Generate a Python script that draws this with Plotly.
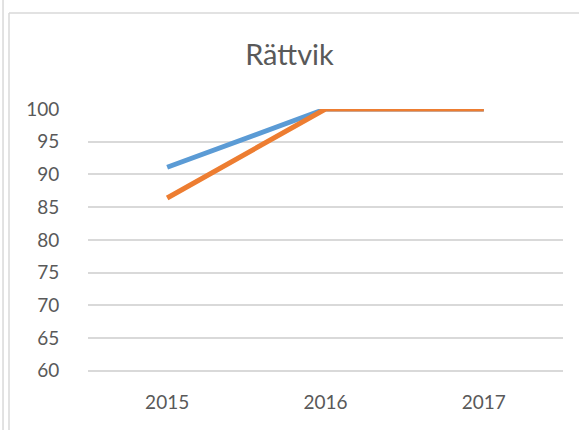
import plotly.graph_objects as go

years = ["2015", "2016", "2017"]
series_blue = [91.1, 100, 100]
series_orange = [86.4, 100, 100]
y_ticks = [60, 65, 70, 75, 80, 85, 90, 95, 100]

GRID = "#d9d9d9"
TEXT = "#595959"

fig = go.Figure()
fig.add_trace(go.Scatter(
    x=years, y=series_blue, mode="lines",
    line=dict(color="#5B9BD5", width=5), cliponaxis=False, name="A",
))
fig.add_trace(go.Scatter(
    x=years, y=series_orange, mode="lines",
    line=dict(color="#ED7D31", width=5), cliponaxis=False, name="B",
))

# outer chart border (partially visible)
for shape in [
    dict(type="line", xref="paper", yref="paper", x0=-0.1789, x1=-0.1789, y0=-0.3, y1=1.5),
    dict(type="line", xref="paper", yref="paper", x0=-0.1663, x1=-0.1663, y0=-0.3, y1=1.362),
    dict(type="line", xref="paper", yref="paper", x0=-0.1663, x1=1.5, y0=1.362, y1=1.362),
]:
    fig.add_shape(line=dict(color=GRID, width=1.5), layer="below", **shape)

fig.update_layout(
    width=579, height=430,
    margin=dict(l=88, r=16, t=109, b=56),
    paper_bgcolor="white", plot_bgcolor="white",
    showlegend=False,
    font=dict(family="Lato, sans-serif", color=TEXT, size=19),
    title=dict(text="Rättvik", x=0.5, xanchor="center", y=1 - 55 / 430, yanchor="middle",
               xref="container", yref="container", font=dict(size=29, color=TEXT)),
    xaxis=dict(type="category", range=[-0.5, 2.5], showgrid=False, zeroline=False,
               showline=False, ticks="outside", ticklen=11, tickcolor="rgba(0,0,0,0)"),
    yaxis=dict(range=[59.5, 100], tickvals=y_ticks, showgrid=True, gridcolor=GRID, gridwidth=1.5,
               zeroline=False, showline=False, ticks="outside", ticklen=24,
               tickcolor="rgba(0,0,0,0)"),
)

fig.write_html("out.html", config={"displayModeBar": False},
               post_script="document.body.style.margin='0';")
